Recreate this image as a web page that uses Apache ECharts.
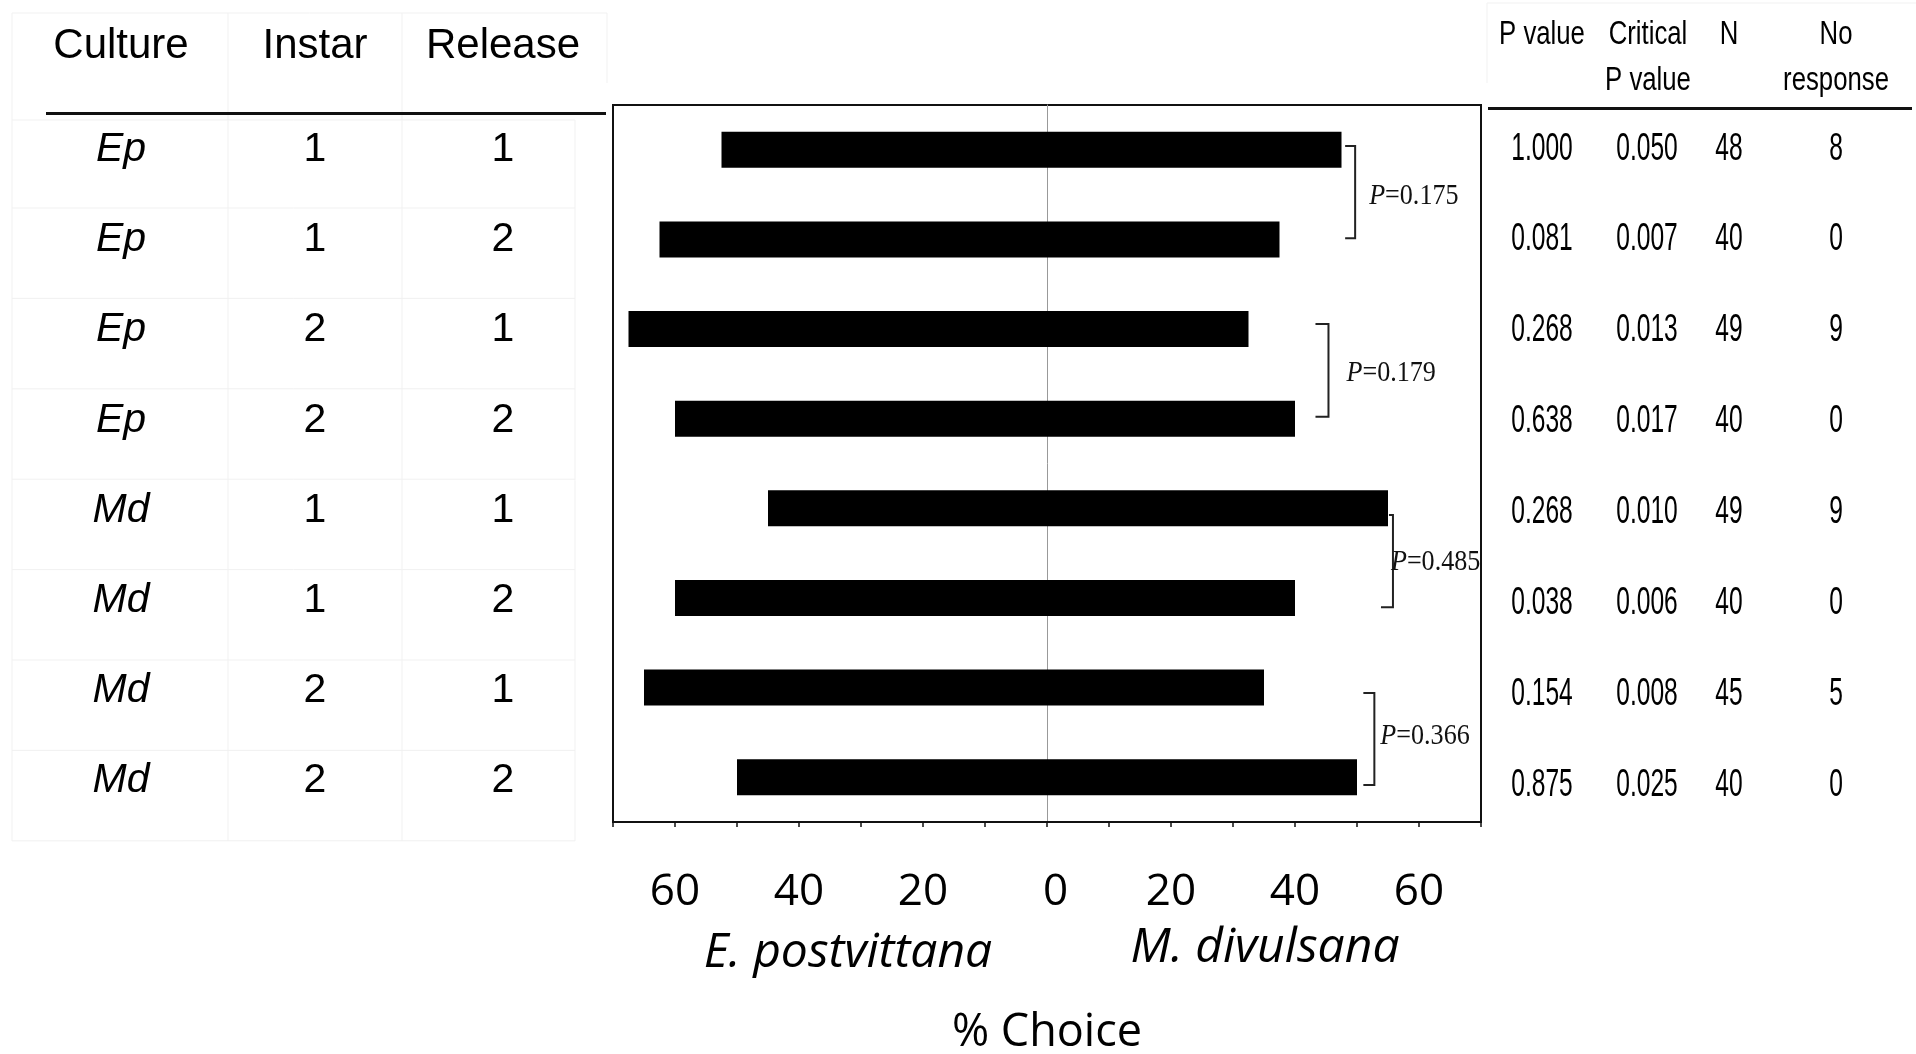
<!DOCTYPE html>
<html><head><meta charset="utf-8">
<script src="https://cdn.jsdelivr.net/npm/echarts@6/dist/echarts.min.js"></script>
<style>html,body{margin:0;padding:0;background:#fff}#c{width:1916px;height:1054px}</style>
</head><body><div id="c"></div>
<script>
// ---- data ----
const cultures = ['Ep','Ep','Ep','Ep','Md','Md','Md','Md'];
const instars  = ['1','1','2','2','1','1','2','2'];
const releases = ['1','2','1','2','1','2','1','2'];
const epChoice = [52.5, 62.5, 67.5, 60, 45, 60, 65, 50];   // % choosing E. postvittana (left)
const mdChoice = [47.5, 37.5, 32.5, 40, 55, 40, 35, 50];   // % choosing M. divulsana (right)
const pValues  = ['1.000','0.081','0.268','0.638','0.268','0.038','0.154','0.875'];
const critP    = ['0.050','0.007','0.013','0.017','0.010','0.006','0.008','0.025'];
const nVals    = ['48','40','49','40','49','40','45','40'];
const noResp   = ['8','0','9','0','9','0','5','0'];
const pairRows = [[0,1],[2,3],[4,5],[6,7]];
const pairP    = ['0.175','0.179','0.485','0.366'];
const pairX    = [49.7, 45.4, 55.8, 52.8];
const tableHeadLeft = ['Culture','Instar','Release'];
const rowKeys = cultures.map((c,i)=>c+' '+instars[i]+' '+releases[i]);

// ---- layout (pixels / style only) ----
const SANS = 'Liberation Sans, Arial, sans-serif';
const SERIF = 'Liberation Serif, Times New Roman, serif';
const CAL = 'Open Sans, sans-serif';
const bracketLayout = [
  {dTop:-3.8, dBot:-1.1, tTop:10, tBot:10, tx:14, ty:4},
  {dTop:-5.1, dBot:-2,   tTop:13, tBot:13, tx:18, ty:3},
  {dTop:6.7,  dBot:9.3,  tTop:4,  tBot:12, tx:-2, ty:1},
  {dTop:5.4,  dBot:7.8,  tTop:11, tBot:11, tx:6,  ty:-3}
];
function T(x, y, text, o){
  o = o || {};
  return {type:'text', x:x, y:y, scaleX:o.sx||1, silent:true, z:o.z||10,
    style:{text:text, fill:'#000', fontSize:o.fs||41, fontFamily:o.ff||SANS,
      fontStyle:o.it?'italic':'normal', align:o.al||'center', verticalAlign:'middle',
      textAlign:o.al||'center', textVerticalAlign:'middle'}};
}
function L(x1,y1,x2,y2,c,w){
  return {type:'line', silent:true, z:1, shape:{x1:x1,y1:y1,x2:x2,y2:y2}, style:{stroke:c, lineWidth:w}};
}

const faint = '#f1f1f1';
const HS = {fs:33, sx:0.78};
const graphics = [
  // left table faint cell borders
  L(12,13,607,13,faint,1), L(12,13,12,841,faint,1), L(228,13,228,841,faint,1), L(402,13,402,841,faint,1),
  L(607,13,607,83,faint,1), L(575,120,575,841,faint,1),
  L(12,120,575,120,faint,1),
  // right table faint header box
  L(1487,3,1916,3,faint,1), L(1487,3,1487,83,faint,1),
  // header rules
  {type:'rect', silent:true, z:2, shape:{x:46,y:112,width:560,height:3}, style:{fill:'#111'}},
  {type:'rect', silent:true, z:2, shape:{x:1488,y:107,width:424,height:3}, style:{fill:'#111'}},
  // left headers
  T(121, 46.5, tableHeadLeft[0], {fs:42}), T(315, 46.5, tableHeadLeft[1], {fs:42}), T(503, 46.5, tableHeadLeft[2], {fs:42}),
  // right headers
  T(1542, 34.5, 'P value', HS),
  T(1648, 34.5, 'Critical', HS),
  T(1648, 80.5, 'P value', HS),
  T(1729, 34.5, 'N', HS),
  T(1836, 34.5, 'No', HS),
  T(1836, 80.5, 'response', HS),
  // species labels
  T(848, 953.5, 'E. postvittana', {fs:48, ff:CAL, it:true}),
  T(1265, 948.5, 'M. divulsana', {fs:48, ff:CAL, it:true})
];
// faint row separators in left table
for (let i=0;i<8;i++){ graphics.push(L(12, 208+90.4*i, 575, 208+90.4*i, faint, 1)); }

const chart = echarts.init(document.getElementById('c'));
chart.setOption({
  backgroundColor:'#fff',
  animation:false,
  graphic: graphics,
  grid:{left:613, top:105, width:868, height:717, show:true, borderColor:'#111', borderWidth:2,
    backgroundColor:'transparent', containLabel:false, outerBoundsMode:'none'},
  xAxis:{
    type:'value', min:-70, max:70, interval:10,
    axisLine:{show:true, onZero:false, lineStyle:{color:'#111', width:2}},
    axisTick:{show:true, inside:false, length:5, lineStyle:{color:'#111', width:1.5}},
    splitLine:{show:false},
    axisLabel:{margin:48, fontSize:44, fontFamily:CAL, color:'#000',
      formatter:function(v){
        if (v % 20 !== 0) return '';
        return v === 0 ? '{z|0}' : String(Math.abs(v));
      },
      rich:{z:{fontSize:44, fontFamily:CAL, color:'#000', padding:[0,0,0,17]}}},
    name:'% Choice', nameLocation:'middle', nameGap:189,
    nameTextStyle:{fontSize:45, fontFamily:CAL, color:'#000'}
  },
  yAxis:{
    type:'category', data:rowKeys, inverse:true,
    axisLine:{show:true, onZero:true, lineStyle:{color:'#999', width:1}},
    axisTick:{show:false}, axisLabel:{show:false}, splitLine:{show:false}
  },
  series:[
    {name:'E. postvittana', type:'bar', stack:'c', barWidth:36, silent:true,
      itemStyle:{color:'#000'}, data:epChoice.map(v=>-v)},
    {name:'M. divulsana', type:'bar', stack:'c', barWidth:36, silent:true,
      itemStyle:{color:'#000'}, data:mdChoice},
    // brackets with P values
    {type:'custom', clip:false, silent:true, z:5,
      data:pairRows.map((r,i)=>[pairX[i], r[0]]),
      encode:{x:0, y:1},
      renderItem:function(params, api){
        const i = params.dataIndex, b = bracketLayout[i];
        const top = api.coord([pairX[i], pairRows[i][0]]);
        const bot = api.coord([pairX[i], pairRows[i][1]]);
        const x = top[0], y1 = top[1]+b.dTop, y2 = bot[1]+b.dBot;
        const ls = {stroke:'#222', lineWidth:2, fill:null};
        return {type:'group', children:[
          {type:'polyline', shape:{points:[[x-b.tTop,y1],[x,y1],[x,y2],[x-b.tBot,y2]]}, style:ls},
          {type:'text', x:x+b.tx, y:(y1+y2)/2+b.ty, scaleX:0.9,
            style:{text:'{i|P}=' + pairP[i], fill:'#111', fontSize:29, fontFamily:SERIF,
              align:'left', verticalAlign:'middle', textAlign:'left', textVerticalAlign:'middle',
              rich:{i:{fontStyle:'italic', fontSize:29, fontFamily:SERIF, fill:'#111'}}}}
        ]};
      }},
    // tables aligned to rows
    {type:'custom', clip:false, silent:true, z:5,
      data:rowKeys.map((k,i)=>[0, i]),
      encode:{x:0, y:1},
      renderItem:function(params, api){
        const i = params.dataIndex;
        const y = api.coord([0, i])[1];
        const yl = y + 0.5 * i;
        const yr = y - 1 + 1.25 * i;
        const VS = {fs:39, sx:0.63};
        return {type:'group', children:[
          T(121, yl, cultures[i], {it:true}),
          T(315, yl, instars[i]),
          T(503, yl, releases[i]),
          T(1542, yr, pValues[i], VS),
          T(1647, yr, critP[i], VS),
          T(1729, yr, nVals[i], VS),
          T(1836, yr, noResp[i], VS)
        ]};
      }}
  ]
});
</script></body></html>
